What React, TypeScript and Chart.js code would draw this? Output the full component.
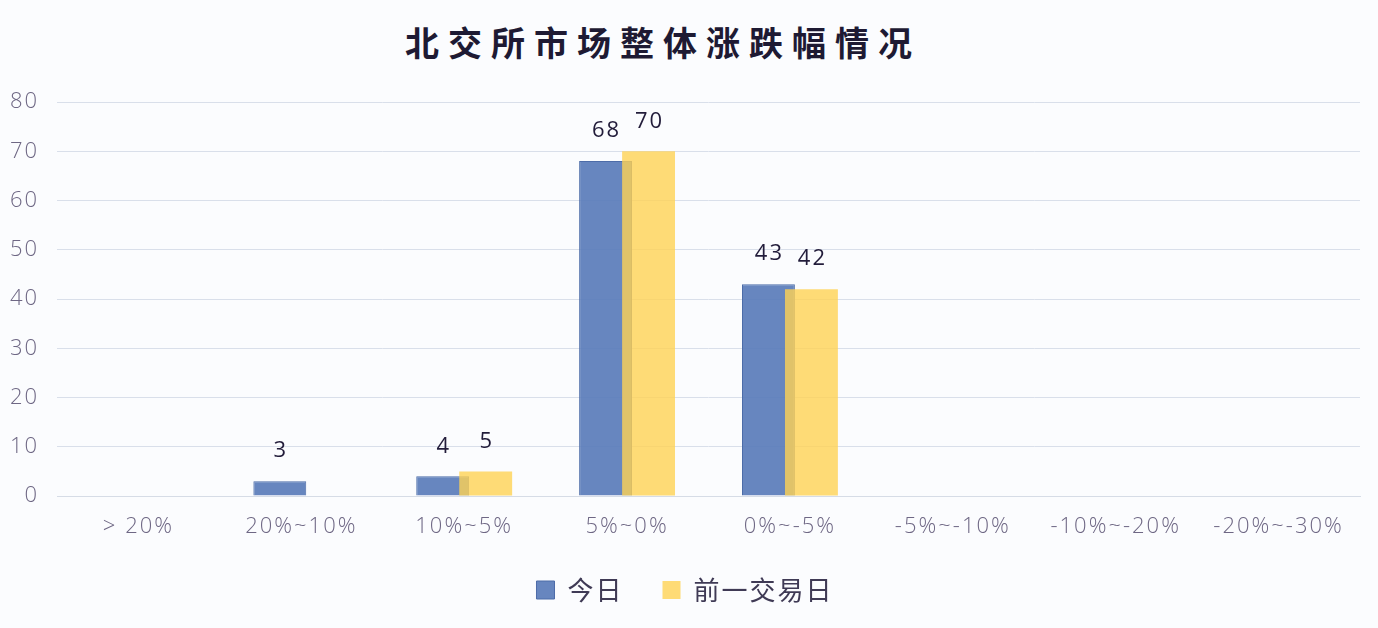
import React, { useEffect, useRef } from 'react';
import { Chart, registerables } from 'chart.js';

Chart.register(...registerables);

const title = '北交所市场整体涨跌幅情况';
const categories = ['> 20%', '20%~10%', '10%~5%', '5%~0%', '0%~-5%', '-5%~-10%', '-10%~-20%', '-20%~-30%'];
const todayValues = [0, 3, 4, 68, 43, 0, 0, 0];
const prevDayValues = [0, 0, 5, 70, 42, 0, 0, 0];
const yTicks = [0, 10, 20, 30, 40, 50, 60, 70, 80];

const FONT = '"Open Sans", "Noto Sans", sans-serif';
const CJK = '"Noto Sans CJK SC", sans-serif';

// canvas state is reset on resize, so spacing is set again before layout and draw
const spacing = {
  id: 'spacing',
  beforeUpdate(chart: any) {
    chart.ctx.letterSpacing = '2px';
  },
  beforeDraw(chart: any) {
    chart.ctx.letterSpacing = '2px';
  },
};

// yellow bars are painted over the blue ones, like the overlapping columns of the original
const yellowOnTop = {
  id: 'yellowOnTop',
  beforeDatasetDraw(chart: any, args: any) {
    if (args.index === 1) return false;
  },
  afterDatasetDraw(chart: any, args: any) {
    if (args.index === 0) chart.getDatasetMeta(1).controller.draw();
  },
};

// number above each bar, zeros skipped
const barValueLabels = {
  id: 'barValueLabels',
  afterDatasetsDraw(chart: any) {
    const ctx = chart.ctx;
    ctx.save();
    ctx.font = `22px ${FONT}`;
    ctx.fillStyle = '#221c3a';
    ctx.textAlign = 'center';
    ctx.textBaseline = 'bottom';
    chart.data.datasets.forEach((ds: any, i: number) => {
      const meta = chart.getDatasetMeta(i);
      meta.data.forEach((bar: any, j: number) => {
        const v = ds.data[j];
        if (!v) return;
        ctx.fillText(String(v), bar.x + 1, bar.y - 19);
      });
    });
    ctx.restore();
  },
};

const App: React.FC = () => {
  const canvasRef = useRef<HTMLCanvasElement>(null);
  const chartRef = useRef<Chart | null>(null);

  useEffect(() => {
    document.body.style.margin = '0';
    document.body.style.overflow = 'hidden';
    if (!canvasRef.current) return;
    const ctx = canvasRef.current.getContext('2d');
    if (!ctx) return;

    chartRef.current = new Chart(ctx, {
      type: 'bar',
      data: {
        labels: categories,
        datasets: [
          {
            label: '今日',
            data: todayValues,
            backgroundColor: 'rgba(90, 124, 186, 0.92)',
            borderColor: '#4d6ca8',
            borderWidth: 1,
          },
          {
            label: '前一交易日',
            data: prevDayValues,
            backgroundColor: 'rgba(255, 210, 84, 0.8)',
            borderWidth: 0,
          },
        ],
      },
      options: {
        animation: false,
        responsive: true,
        maintainAspectRatio: false,
        datasets: {
          bar: {
            categoryPercentage: 0.528,
            barPercentage: 1.23,
          },
        },
        layout: { padding: { left: 10, right: 18, top: 18, bottom: 15 } },
        plugins: {
          title: { display: false },
          legend: {
            position: 'bottom',
            labels: {
              color: '#3f3a55',
              font: { family: CJK, size: 26 },
              boxWidth: 18,
              boxHeight: 18,
              padding: 39,
            },
          },
          tooltip: { enabled: false },
        },
        scales: {
          x: {
            grid: { display: false },
            border: { color: '#d6dce6' },
            afterFit: (axis: any) => {
              axis.height = 42;
            },
            ticks: {
              color: '#6e6784',
              font: { family: FONT, size: 22, weight: 300, lineHeight: 1 },
              padding: 12,
              maxRotation: 0,
            },
          },
          y: {
            min: 0,
            max: 80,
            afterBuildTicks: (axis: any) => {
              axis.ticks = yTicks.map((v) => ({ value: v }));
            },
            afterFit: (axis: any) => {
              axis.width = 47;
              axis.paddingTop = 0;
              axis.paddingBottom = 0;
            },
            grid: { color: '#d9dfea', drawTicks: false },
            border: { display: false },
            ticks: {
              color: '#6e6784',
              font: { family: FONT, size: 22, weight: 300 },
              padding: 18,
            },
          },
        },
      },
      plugins: [spacing, yellowOnTop, barValueLabels],
    });

    return () => {
      if (chartRef.current) {
        chartRef.current.destroy();
        chartRef.current = null;
      }
    };
  }, []);

  return (
    <div style={{ width: 1378, height: 628, overflow: 'hidden', background: '#fbfcfe' }}>
      <div
        style={{
          height: 84,
          lineHeight: '84px',
          textAlign: 'center',
          fontFamily: CJK,
          fontWeight: 700,
          fontSize: 34,
          letterSpacing: 9,
          color: '#1e1a33',
          paddingRight: 52,
          boxSizing: 'border-box',
        }}
      >
        {title}
      </div>
      <div style={{ position: 'relative', width: 1378, height: 544 }}>
        <canvas ref={canvasRef}></canvas>
      </div>
    </div>
  );
};

export default App;
